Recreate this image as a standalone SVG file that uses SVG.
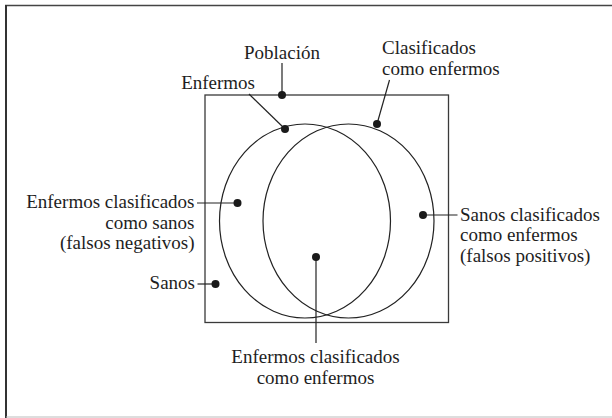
<svg xmlns="http://www.w3.org/2000/svg" width="612" height="418" viewBox="0 0 612 418" font-family="Liberation Serif" font-size="19">
<style>
.s{stroke:#222;stroke-width:1.2;fill:none}
.r{stroke:#3a3a3a;stroke-width:1.3;fill:none}
.d{fill:#1a1a1a}
</style>
<rect x="0" y="0" width="612" height="418" fill="#fff"/>
<g id="frame">
<line x1="5" y1="5.5" x2="612" y2="5.5" stroke="#444" stroke-width="1.5"/>
<line x1="6" y1="5" x2="6" y2="418" stroke="#333" stroke-width="2"/>
<line x1="6" y1="417" x2="612" y2="417" stroke="#bbb" stroke-width="1.2"/>
</g>
<g id="poblacion">
<rect class="r" x="205" y="95" width="243.5" height="227.5"/>
<text font-family="Liberation Serif" font-size="19" fill="#1e1e1e" x="282" y="59" text-anchor="middle">Población</text>
</g>
<g id="enfermos">
<ellipse class="s" cx="305" cy="221" rx="85.5" ry="97"/>
<text font-family="Liberation Serif" font-size="19" fill="#1e1e1e" x="255" y="89" text-anchor="end">Enfermos</text>
</g>
<g id="clasificados">
<ellipse class="s" cx="348.5" cy="221" rx="85.5" ry="97"/>
<text font-family="Liberation Serif" font-size="19" fill="#1e1e1e"><tspan x="382" y="54">Clasificados</tspan><tspan x="382" y="74.5">como enfermos</tspan></text>
</g>
<g id="falsos-negativos">
<text font-family="Liberation Serif" font-size="19" fill="#1e1e1e" text-anchor="end"><tspan x="194.5" y="208">Enfermos clasificados</tspan><tspan x="194.5" y="228.5">como sanos</tspan><tspan x="194.5" y="249">(falsos negativos)</tspan></text>
</g>
<g id="falsos-positivos">
<text font-family="Liberation Serif" font-size="19" fill="#1e1e1e"><tspan x="460" y="220.5">Sanos clasificados</tspan><tspan x="460" y="241">como enfermos</tspan><tspan x="460" y="261.5">(falsos positivos)</tspan></text>
</g>
<g id="sanos">
<text font-family="Liberation Serif" font-size="19" fill="#1e1e1e" x="195" y="288.5" text-anchor="end">Sanos</text>
</g>
<g id="verdaderos-positivos">
<text font-family="Liberation Serif" font-size="19" fill="#1e1e1e" text-anchor="middle"><tspan x="315.5" y="363">Enfermos clasificados</tspan><tspan x="315.5" y="384">como enfermos</tspan></text>
</g>
<g id="connectors">
<line class="s" x1="282" y1="63" x2="282" y2="95"/>
<circle class="d" cx="282" cy="95" r="4"/>
<line class="s" x1="249" y1="94" x2="285" y2="129"/>
<circle class="d" cx="285" cy="129" r="4"/>
<line class="s" x1="389.5" y1="80" x2="377" y2="124"/>
<circle class="d" cx="377" cy="124" r="4"/>
<line class="s" x1="197" y1="203" x2="237.5" y2="203"/>
<circle class="d" cx="237.5" cy="203" r="4"/>
<line class="s" x1="423" y1="215" x2="457.5" y2="215"/>
<circle class="d" cx="423" cy="215" r="4"/>
<line class="s" x1="197.5" y1="284" x2="215.5" y2="284"/>
<circle class="d" cx="215.5" cy="284" r="4"/>
<line class="s" x1="316" y1="257" x2="316" y2="343"/>
<circle class="d" cx="316" cy="257" r="4"/>
</g>
</svg>
